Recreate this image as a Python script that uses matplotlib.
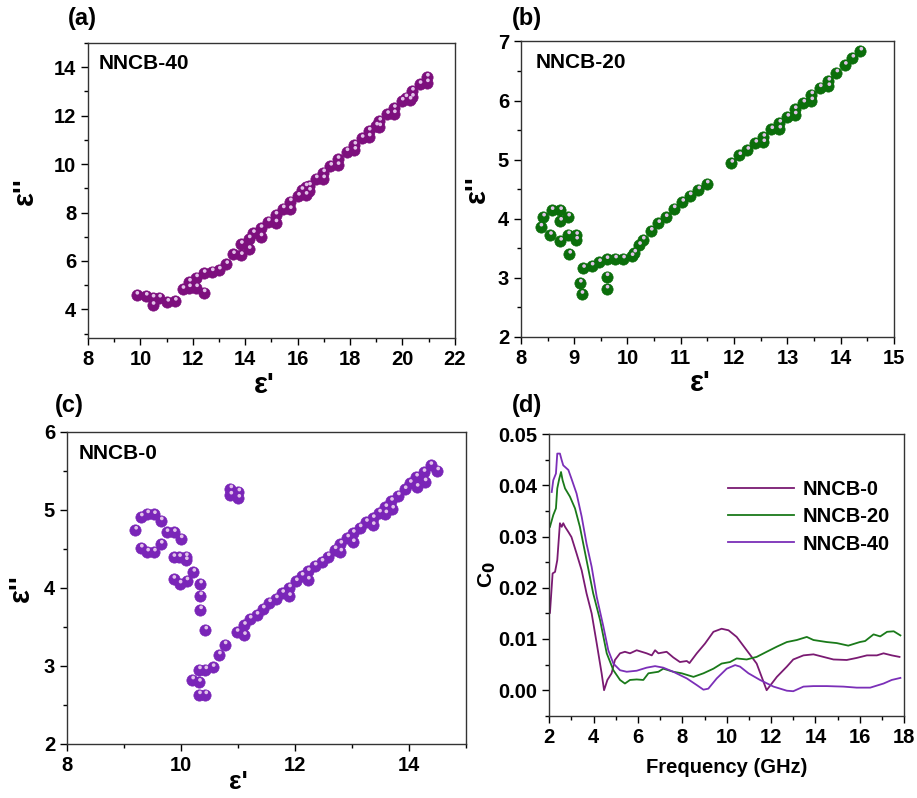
import matplotlib
matplotlib.use("Agg")
import matplotlib.pyplot as plt
import matplotlib.transforms as mtransforms
from matplotlib.ticker import MultipleLocator, FormatStrFormatter
import numpy as np

plt.rcParams['font.family'] = ['Liberation Sans', 'DejaVu Sans']
plt.rcParams['font.weight'] = 'bold'

# NNCB-40 (a)
a_x = [9.85, 10.21, 10.47, 10.47, 10.72, 11.03, 11.32, 11.61, 11.86, 11.86, 12.13, 12.13,
       12.42, 12.42, 12.73, 13.0, 13.28, 13.54, 13.84, 13.84, 14.14, 14.14, 14.30, 14.59,
       14.59, 14.87, 15.16, 15.16, 15.44, 15.71, 15.71, 16.02, 16.15, 16.31, 16.31, 16.44,
       16.44, 16.70, 16.98, 16.98, 17.25, 17.53, 17.53, 17.87, 18.17, 18.17, 18.45, 18.72,
       18.72, 19.0, 19.12, 19.12, 19.42, 19.68, 19.68, 19.98, 20.12, 20.28, 20.37, 20.37,
       20.66, 20.94, 20.94]
a_y = [4.59, 4.55, 4.47, 4.17, 4.47, 4.30, 4.34, 4.83, 5.13, 4.90, 5.31, 4.90,
       5.49, 4.69, 5.56, 5.63, 5.86, 6.27, 6.69, 6.23, 6.92, 6.48, 7.14, 7.35,
       7.0, 7.62, 7.90, 7.58, 8.16, 8.45, 8.13, 8.68, 8.92, 9.07, 8.72, 8.89,
       9.10, 9.40, 9.65, 9.40, 9.92, 10.20, 9.95, 10.52, 10.79, 10.58, 11.07, 11.37,
       11.13, 11.58, 11.78, 11.55, 12.06, 12.31, 12.09, 12.61, 12.75, 12.65, 13.02, 12.77,
       13.30, 13.60, 13.37]

# NNCB-20 (b)
b_x = [8.37, 8.42, 8.55, 8.58, 8.74, 8.74, 8.74, 8.89, 8.89, 8.91, 9.04, 9.04, 9.11, 9.14,
       9.17, 9.33, 9.47, 9.61, 9.61, 9.61, 9.77, 9.92, 10.08, 10.13, 10.22, 10.29, 10.44,
       10.58, 10.72, 10.87, 11.03, 11.17, 11.33, 11.49, 11.95, 12.10, 12.25, 12.40, 12.55,
       12.55, 12.70, 12.85, 12.85, 13.0, 13.14, 13.14, 13.30, 13.45, 13.45, 13.61, 13.77,
       13.77, 13.92, 14.08, 14.22, 14.37]
b_y = [3.86, 4.03, 3.72, 4.14, 4.14, 3.96, 3.62, 4.03, 3.73, 3.40, 3.72, 3.64, 2.91, 2.72,
       3.16, 3.20, 3.26, 3.31, 3.02, 2.81, 3.32, 3.32, 3.36, 3.42, 3.55, 3.64, 3.79,
       3.92, 4.02, 4.17, 4.28, 4.39, 4.49, 4.59, 4.94, 5.07, 5.16, 5.28, 5.38,
       5.29, 5.51, 5.62, 5.52, 5.72, 5.85, 5.76, 5.96, 6.10, 6.0, 6.22, 6.33,
       6.24, 6.47, 6.60, 6.72, 6.84]

# NNCB-0 (c)
c_x = [9.20, 9.30, 9.41, 9.53, 9.65, 9.30, 9.41, 9.53, 9.65, 9.75, 9.88, 10.0, 9.87, 9.97,
       10.09, 10.09, 9.87, 9.98, 10.10, 10.22, 10.34, 10.34, 10.34, 10.43, 10.20, 10.32,
       10.32, 10.43, 10.32, 10.43, 10.56, 10.67, 10.77, 10.87, 11.01, 10.87, 11.01, 10.98,
       11.11, 11.11, 11.21, 11.33, 11.44, 11.55, 11.67, 11.78, 11.90, 11.90, 12.02, 12.12,
       12.23, 12.23, 12.35, 12.47, 12.58, 12.70, 12.80, 12.80, 12.92, 13.02, 13.02, 13.14,
       13.25, 13.37, 13.37, 13.48, 13.59, 13.59, 13.69, 13.71, 13.81, 13.93, 14.02, 14.13,
       14.14, 14.26, 14.28, 14.38, 14.50]
c_y = [4.74, 4.91, 4.95, 4.94, 4.86, 4.51, 4.46, 4.46, 4.56, 4.71, 4.71, 4.63, 4.39, 4.39,
       4.40, 4.35, 4.11, 4.05, 4.09, 4.20, 4.05, 3.90, 3.72, 3.46, 2.82, 2.79,
       2.95, 2.95, 2.63, 2.63, 2.98, 3.14, 3.27, 5.27, 5.23, 5.19, 5.15, 3.43,
       3.52, 3.39, 3.60, 3.65, 3.73, 3.81, 3.86, 3.93, 4.0, 3.89, 4.08, 4.15,
       4.21, 4.10, 4.28, 4.33, 4.40, 4.49, 4.56, 4.46, 4.64, 4.70, 4.58, 4.77,
       4.84, 4.89, 4.80, 4.96, 5.03, 4.95, 5.11, 5.01, 5.18, 5.26, 5.34, 5.42,
       5.29, 5.48, 5.36, 5.57, 5.50]

# C0 vs frequency (d), values in units of 1e-3
d0_f = [2.03, 2.15, 2.26, 2.36, 2.48, 2.56, 2.63, 2.71, 2.86, 3.0, 3.23, 3.46, 3.68, 3.91,
        4.14, 4.36, 4.47, 4.62, 4.81, 4.96, 5.19, 5.41, 5.64, 5.94, 6.39, 6.62, 6.77, 6.92,
        7.29, 7.59, 7.89, 8.20, 8.32, 8.65, 9.02, 9.40, 9.77, 10.08, 10.45, 10.90, 11.35,
        11.80, 12.26, 12.71, 13.0, 13.46, 13.91, 14.36, 14.81, 15.41, 15.86, 16.32, 16.77,
        17.07, 17.44, 17.79]
d0_c = [15.1, 22.8, 23.1, 25.4, 32.6, 31.9, 32.6, 31.9, 30.9, 29.9, 26.7, 23.4, 18.9, 15.0,
        9.1, 3.3, 0.0, 2.0, 3.3, 5.9, 7.2, 7.5, 7.2, 7.8, 7.2, 6.8, 7.8, 7.2,
        7.5, 6.4, 5.5, 5.7, 5.3, 7.2, 9.1, 11.4, 12.0, 11.7, 10.4, 7.8, 5.2,
        0.0, 2.6, 4.6, 6.0, 6.8, 7.0, 6.5, 6.0, 5.9, 6.3, 6.8, 6.8,
        7.2, 6.8, 6.5]
d20_f = [2.03, 2.18, 2.30, 2.36, 2.45, 2.53, 2.60, 2.71, 2.93, 3.16, 3.38, 3.68, 3.98, 4.29,
         4.59, 4.89, 5.19, 5.41, 5.64, 5.94, 6.24, 6.47, 6.92, 7.14, 7.59, 7.97, 8.50, 8.95,
         9.40, 9.77, 10.15, 10.45, 10.90, 11.35, 11.80, 12.26, 12.71, 13.16, 13.61, 13.91,
         14.51, 14.96, 15.48, 16.0, 16.24, 16.62, 16.92, 17.23, 17.53, 17.83]
d20_c = [31.9, 34.2, 35.5, 39.4, 41.3, 42.6, 41.0, 39.4, 37.8, 35.5, 31.9, 25.4, 18.9, 13.7,
         7.2, 3.9, 2.0, 1.3, 2.0, 2.1, 2.0, 3.3, 3.6, 4.2, 3.6, 3.3, 2.6, 3.3,
         4.2, 5.2, 5.5, 6.2, 6.0, 6.5, 7.5, 8.5, 9.4, 9.8, 10.4, 9.8,
         9.4, 9.2, 8.7, 9.4, 9.6, 10.9, 10.5, 11.4, 11.5, 10.7]
d40_f = [2.11, 2.18, 2.30, 2.36, 2.48, 2.56, 2.63, 2.86, 3.0, 3.23, 3.46, 3.68, 3.91, 4.14,
         4.44, 4.66, 4.89, 5.19, 5.49, 5.94, 6.39, 6.77, 7.14, 7.59, 8.20, 8.65, 8.95, 9.17,
         9.55, 10.0, 10.38, 10.60, 10.98, 11.50, 12.11, 12.71, 13.0, 13.46, 13.91, 14.51,
         15.26, 15.86, 16.47, 17.07, 17.44, 17.83]
d40_c = [38.7, 41.0, 42.3, 46.2, 46.2, 44.9, 43.9, 43.0, 41.3, 38.4, 33.9, 28.6, 24.1, 18.2,
         12.4, 7.8, 5.2, 3.9, 3.6, 3.8, 4.4, 4.7, 4.4, 3.6, 2.3, 1.0, 0.1, 0.3,
         2.3, 4.2, 4.9, 4.6, 3.3, 2.0, 0.7, -0.1, -0.2, 0.7, 0.8, 0.8,
         0.7, 0.5, 0.5, 1.3, 2.0, 2.4]

col_a = '#7d0f7d'
col_b = '#0b6e0b'
col_c = '#7a25b8'
line0 = '#7a1a72'
line20 = '#1a7a1a'
line40 = '#7b2fb8'


def balls(ax, x, y, color):
    # sphere-like markers: body plus a small highlight
    ax.scatter(x, y, s=66, c=color, edgecolors=color, linewidths=0.5, zorder=3)
    hl = mtransforms.offset_copy(ax.transData, fig=ax.figure, x=0.6, y=1.6, units='points')
    ax.scatter(x, y, s=7, c='#e3c3ea', edgecolors='none', transform=hl, zorder=4)


def style(ax):
    ax.tick_params(which='both', direction='out', width=1.0, labelsize=14.5)
    ax.tick_params(which='major', length=5)
    ax.tick_params(which='minor', length=3)
    for s in ax.spines.values():
        s.set_linewidth(1.0)
        s.set_color('#333333')
    for lab in ax.get_xticklabels() + ax.get_yticklabels():
        lab.set_fontweight('bold')


fig = plt.figure(figsize=(9.17, 7.98), dpi=100)

# (a)
ax1 = fig.add_axes([0.096, 0.576, 0.400, 0.370])
balls(ax1, a_x, a_y, col_a)
ax1.set_xlim(8, 22)
ax1.set_ylim(2.8, 15)
ax1.set_xticks(np.arange(8, 23, 2))
ax1.set_yticks(np.arange(4, 15, 2))
ax1.xaxis.set_minor_locator(MultipleLocator(1))
ax1.yaxis.set_minor_locator(MultipleLocator(1))
style(ax1)
ax1.text(0.03, 0.93, 'NNCB-40', transform=ax1.transAxes, fontsize=15, fontweight='bold', va='center')
ax1.set_ylabel("ε''", fontsize=21, fontweight='bold')
ax1.yaxis.set_label_coords(-0.135, 0.5)
ax1.set_xlabel("ε'", fontsize=21, fontweight='bold')
ax1.xaxis.set_label_coords(0.48, -0.11)
fig.text(68 / 917, 1 - 18 / 798, '(a)', fontsize=17, fontweight='bold', va='center', ha='left')

# (b)
ax2 = fig.add_axes([0.568, 0.578, 0.407, 0.370])
balls(ax2, b_x, b_y, col_b)
ax2.set_xlim(8, 15)
ax2.set_ylim(2, 7)
ax2.xaxis.set_major_locator(MultipleLocator(1))
ax2.yaxis.set_major_locator(MultipleLocator(1))
ax2.xaxis.set_minor_locator(MultipleLocator(0.5))
ax2.yaxis.set_minor_locator(MultipleLocator(0.5))
style(ax2)
ax2.text(0.04, 0.93, 'NNCB-20', transform=ax2.transAxes, fontsize=15, fontweight='bold', va='center')
ax2.set_ylabel("ε''", fontsize=21, fontweight='bold')
ax2.yaxis.set_label_coords(-0.08, 0.5)
ax2.set_xlabel("ε'", fontsize=21, fontweight='bold')
ax2.xaxis.set_label_coords(0.48, -0.11)
fig.text(512 / 917, 1 - 18 / 798, '(b)', fontsize=17, fontweight='bold', va='center', ha='left')

# (c)
ax3 = fig.add_axes([0.073, 0.068, 0.435, 0.391])
balls(ax3, c_x, c_y, col_c)
ax3.set_xlim(8, 15)
ax3.set_ylim(2, 6)
ax3.set_xticks([8, 10, 12, 14])
ax3.yaxis.set_major_locator(MultipleLocator(1))
ax3.xaxis.set_minor_locator(MultipleLocator(1))
ax3.yaxis.set_minor_locator(MultipleLocator(0.5))
style(ax3)
ax3.text(0.03, 0.93, 'NNCB-0', transform=ax3.transAxes, fontsize=15, fontweight='bold', va='center')
ax3.set_ylabel("ε''", fontsize=21, fontweight='bold')
ax3.yaxis.set_label_coords(-0.08, 0.5)
ax3.set_xlabel("ε'", fontsize=19, fontweight='bold')
ax3.xaxis.set_label_coords(0.43, -0.085)
fig.text(55 / 917, 1 - 405 / 798, '(c)', fontsize=17, fontweight='bold', va='center', ha='left')

# (d)
ax4 = fig.add_axes([0.599, 0.103, 0.387, 0.353])
ax4.plot(d0_f, np.array(d0_c) / 1000, color=line0, lw=1.3, label='NNCB-0')
ax4.plot(d20_f, np.array(d20_c) / 1000, color=line20, lw=1.3, label='NNCB-20')
ax4.plot(d40_f, np.array(d40_c) / 1000, color=line40, lw=1.3, label='NNCB-40')
ax4.set_xlim(2, 18)
ax4.set_ylim(-0.005, 0.05)
ax4.xaxis.set_major_locator(MultipleLocator(2))
ax4.xaxis.set_minor_locator(MultipleLocator(1))
ax4.yaxis.set_major_locator(MultipleLocator(0.01))
ax4.yaxis.set_minor_locator(MultipleLocator(0.005))
ax4.yaxis.set_major_formatter(FormatStrFormatter('%.2f'))
style(ax4)
ax4.set_xlabel('Frequency (GHz)', fontsize=14.5, fontweight='bold', labelpad=8)
ax4.set_ylabel('C$_\\mathbf{0}$', fontsize=15, fontweight='bold')
ax4.yaxis.set_label_coords(-0.145, 0.5)
leg = ax4.legend(loc='upper right', bbox_to_anchor=(1.01, 0.9), frameon=False,
                 prop={'weight': 'bold', 'size': 14.5}, handlelength=3.3,
                 handletextpad=0.4, labelspacing=0.4)
fig.text(512 / 917, 1 - 405 / 798, '(d)', fontsize=17, fontweight='bold', va='center', ha='left')

fig.savefig('out.png', dpi=100)
